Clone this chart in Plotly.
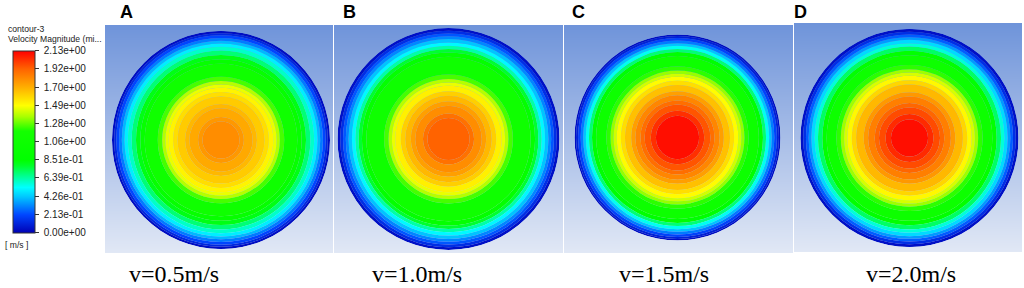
import plotly.graph_objects as go

# ---------------- data ----------------
VMAX = 2.13
tick_values = [0.0, 0.213, 0.426, 0.639, 0.851, 1.06, 1.28, 1.49, 1.70, 1.92, 2.13]
tick_labels = ["0.00e+00", "2.13e-01", "4.26e-01", "6.39e-01", "8.51e-01", "1.06e+00",
               "1.28e+00", "1.49e+00", "1.70e+00", "1.92e+00", "2.13e+00"]

panel_letters = ["A", "B", "C", "D"]
inlet_speeds = ["v=0.5m/s", "v=1.0m/s", "v=1.5m/s", "v=2.0m/s"]

# contour rings: outer radius (fraction of pipe radius) and velocity magnitude (m/s)
ring_outer_A = [0.17, 0.21, 0.29, 0.33, 0.40, 0.44, 0.48, 0.51, 0.54, 0.58, 0.70, 0.74,
                0.78, 0.82, 0.855, 0.885, 0.91, 0.935, 0.96, 0.98, 1.00]
ring_vel_A   = [1.80, 1.77, 1.72, 1.68, 1.63, 1.58, 1.52, 1.46, 1.38, 1.25, 1.10, 0.95,
                0.82, 0.70, 0.60, 0.50, 0.40, 0.30, 0.21, 0.12, 0.04]

ring_outer_B = [0.19, 0.23, 0.30, 0.34, 0.39, 0.43, 0.48, 0.51, 0.54, 0.58, 0.74, 0.78,
                0.81, 0.84, 0.87, 0.90, 0.925, 0.95, 0.975, 1.00]
ring_vel_B   = [1.92, 1.88, 1.80, 1.75, 1.68, 1.62, 1.53, 1.46, 1.38, 1.25, 1.10, 0.92,
                0.78, 0.64, 0.52, 0.42, 0.32, 0.24, 0.14, 0.05]

ring_outer_C = [0.21, 0.26, 0.32, 0.36, 0.41, 0.45, 0.51, 0.55, 0.59, 0.62, 0.65, 0.69,
                0.79, 0.83, 0.86, 0.89, 0.915, 0.94, 0.965, 0.985, 1.00]
ring_vel_C   = [2.10, 2.03, 1.95, 1.89, 1.82, 1.75, 1.66, 1.58, 1.50, 1.42, 1.34, 1.22,
                1.08, 0.85, 0.70, 0.55, 0.42, 0.30, 0.20, 0.10, 0.04]

ring_outer_D = [0.17, 0.22, 0.28, 0.32, 0.38, 0.42, 0.49, 0.53, 0.57, 0.60, 0.63, 0.67,
                0.76, 0.80, 0.84, 0.87, 0.90, 0.925, 0.95, 0.975, 1.00]
ring_vel_D   = [2.10, 2.04, 1.97, 1.91, 1.84, 1.77, 1.68, 1.60, 1.51, 1.43, 1.35, 1.22,
                1.08, 0.88, 0.72, 0.58, 0.46, 0.35, 0.25, 0.14, 0.05]

rings = [(ring_outer_A, ring_vel_A), (ring_outer_B, ring_vel_B),
         (ring_outer_C, ring_vel_C), (ring_outer_D, ring_vel_D)]

# ---------------- layout geometry (pixels) ----------------
W, H = 1024, 288
panel_boxes = [(105, 333, 25, 253), (334, 563, 25, 253), (564, 793, 25, 253), (794, 1022, 23, 252)]
circle_geo = [(221, 140, 109), (448.5, 139, 111), (677.5, 137.5, 103), (909.5, 138, 109)]
letter_x = [126, 349.5, 578, 800.5]
caption_x = [173.5, 416.5, 664, 911]

fluent_scale = [
    [0.00, "rgb(0,0,180)"],
    [0.10, "rgb(0,70,255)"],
    [0.20, "rgb(0,200,255)"],
    [0.25, "rgb(0,255,255)"],
    [0.31, "rgb(0,255,150)"],
    [0.37, "rgb(0,255,40)"],
    [0.40, "rgb(0,255,0)"],
    [0.56, "rgb(20,255,0)"],
    [0.64, "rgb(170,255,0)"],
    [0.70, "rgb(255,255,0)"],
    [0.80, "rgb(255,175,0)"],
    [0.90, "rgb(255,100,0)"],
    [1.00, "rgb(255,0,0)"],
]
bg_scale = [[0, "#e1e8f5"], [1, "#6f94da"]]

def px(x):
    return x / W

def py(y):
    return 1 - y / H

fig = go.Figure()
layout = dict(
    width=W, height=H, margin=dict(l=0, r=0, t=0, b=0),
    paper_bgcolor="white", plot_bgcolor="rgba(0,0,0,0)", showlegend=False,
)

for i in range(4):
    n = "" if i == 0 else str(i + 1)
    x0, x1, y0, y1 = panel_boxes[i]
    # background gradient panel
    fig.add_trace(go.Heatmap(
        z=[[0, 0], [1, 1]], x=[0, 1], y=[0, 1], zsmooth="best",
        colorscale=bg_scale, showscale=False, hoverinfo="skip",
        xaxis="x" + n, yaxis="y" + n,
    ))
    layout["xaxis" + n] = dict(domain=[px(x0), px(x1)], range=[0, 1], visible=False, fixedrange=True)
    layout["yaxis" + n] = dict(domain=[py(y1), py(y0)], range=[0, 1], visible=False, fixedrange=True)

    # velocity contour rings
    outer, vel = rings[i]
    inner = [0.0] + outer[:-1]
    widths = [o - r0 for o, r0 in zip(outer, inner)]
    marker = dict(color=vel, colorscale=fluent_scale, cmin=0, cmax=VMAX,
                  line=dict(width=0))
    if i == 0:
        marker["showscale"] = True
        marker["colorbar"] = dict(
            x=px(12.7), xanchor="left", xpad=0,
            y=py(141.5), yanchor="middle", ypad=0,
            lenmode="pixels", len=181.5,
            thicknessmode="pixels", thickness=21.5,
            outlinewidth=1, outlinecolor="#333",
            tickmode="array", tickvals=tick_values,
            ticktext=["\u00a0" + t for t in tick_labels],
            ticks="outside", ticklen=4, tickwidth=1, tickcolor="#333",
            tickfont=dict(family="Arial, Liberation Sans", size=10, color="#222"),
        )
    else:
        marker["showscale"] = False
    fig.add_trace(go.Barpolar(
        r=widths, base=inner, theta=[0] * len(widths), width=[360] * len(widths),
        marker=marker, subplot="polar" + n, hoverinfo="skip",
    ))
    cx, cy, rad = circle_geo[i]
    layout["polar" + n] = dict(
        domain=dict(x=[px(cx - rad), px(cx + rad)], y=[py(cy + rad), py(cy - rad)]),
        bgcolor="rgba(0,0,0,0)",
        radialaxis=dict(range=[0, 1], visible=False, showgrid=False),
        angularaxis=dict(visible=False, showgrid=False),
        barmode="overlay",
    )

annotations = []
for i in range(4):
    annotations.append(dict(
        x=px(letter_x[i]), y=py(11.5), xref="paper", yref="paper",
        text="<b>" + panel_letters[i] + "</b>", showarrow=False,
        xanchor="center", yanchor="middle",
        font=dict(family="Arial, Liberation Sans", size=18, color="black"),
    ))
    annotations.append(dict(
        x=px(caption_x[i]), y=py(273.5), xref="paper", yref="paper",
        text=inlet_speeds[i], showarrow=False, xanchor="center", yanchor="middle",
        font=dict(family="Times New Roman, Liberation Serif", size=24, color="black"),
    ))

small = dict(family="Arial, Liberation Sans", size=8.6, color="#222")
annotations.append(dict(x=px(6), y=py(29), xref="paper", yref="paper", text="contour-3",
                        showarrow=False, xanchor="left", yanchor="middle", font=small))
annotations.append(dict(x=px(6), y=py(38.5), xref="paper", yref="paper",
                        text="Velocity Magnitude (mi...", showarrow=False,
                        xanchor="left", yanchor="middle", font=small))
annotations.append(dict(x=px(3), y=py(245), xref="paper", yref="paper", text="[ m/s ]",
                        showarrow=False, xanchor="left", yanchor="middle", font=small))
layout["annotations"] = annotations

fig.update_layout(**layout)
fig.write_html(
    "out.html",
    config={"displayModeBar": False},
    post_script="document.body.style.margin='0px';document.body.style.overflow='hidden';",
)
